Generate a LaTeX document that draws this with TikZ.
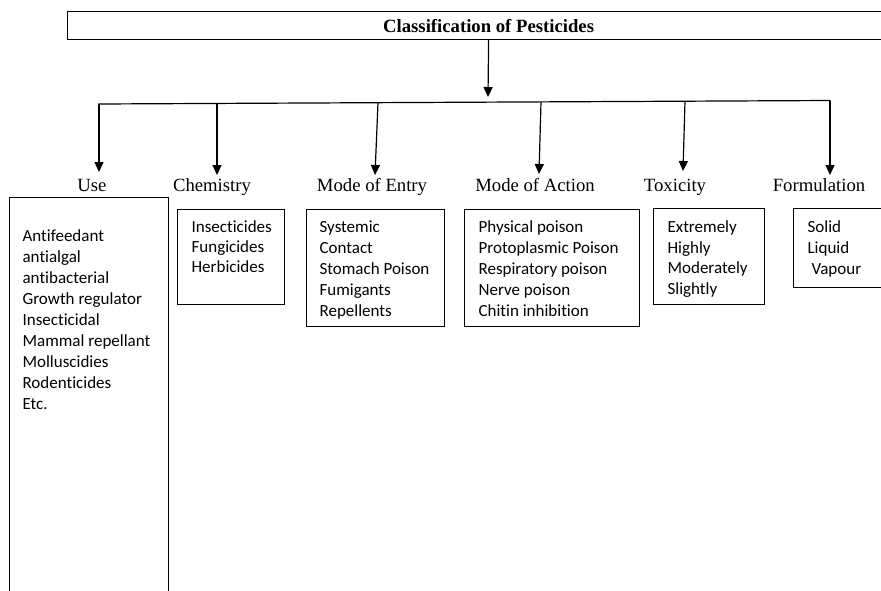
\documentclass[tikz,border=0pt]{standalone}
\usepackage{fontspec}
\setmainfont{Liberation Serif}
\newfontfamily\calibrifont[Ligatures=NoCommon]{Carlito}
\usetikzlibrary{arrows.meta}
\begin{document}
\begin{tikzpicture}[x=1pt,y=-1pt,line width=1.2pt,
  arr/.style={-{Triangle[length=10pt,width=9pt]}},
  heading/.style={font=\fontsize{18.7}{22}\selectfont,inner sep=0,anchor=base},
  item/.style={font=\calibrifont\fontsize{17}{21}\selectfont,inner sep=0,anchor=base west},
  listbox/.style={draw,anchor=north west,inner sep=0}]
\clip (0,0) rectangle (881,590);

% title bar (runs past the right edge)
\node[draw,anchor=north west,minimum width=842pt,minimum height=28pt,inner sep=0,
      font=\bfseries\fontsize{18.7}{22}\selectfont] (title) at (67,11) {Classification of Pesticides};

% distribution bus
\coordinate (join) at (488,97);
\draw[arr] (title.south) -- (join);
\coordinate (busL) at (99,104);
\coordinate (busR) at (830,100.5);
\draw[line cap=rect] (busL) -- (busR);

\coordinate (bChem) at (217,103.4);
\coordinate (bEntry) at (378,102.7);
\coordinate (bAction) at (541,101.9);
\coordinate (bTox) at (685,101.2);

\coordinate (tUse) at (99,172);
\coordinate (tChem) at (217,175);
\coordinate (tEntry) at (375,175);
\coordinate (tAction) at (539,174);
\coordinate (tTox) at (683,171);
\coordinate (tForm) at (830,175);

\draw[arr] (busL) -- (tUse);
\draw[arr] (bChem) -- (tChem);
\draw[arr] (bEntry) -- (tEntry);
\draw[arr] (bAction) -- (tAction);
\draw[arr] (bTox) -- (tTox);
\draw[arr] (busR) -- (tForm);

% category headings
\node[heading] (lUse) at (92,191) {Use};
\node[heading] (lChem) at (212,191) {Chemistry};
\node[heading] (lEntry) at (372,191) {Mode of Entry};
\node[heading] (lAction) at (535,191) {Mode of Action};
\node[heading] (lTox) at (675,191) {Toxicity};
\node[heading] (lForm) at (819,191) {Formulation};

% list boxes
\node[listbox,minimum width=159pt,minimum height=420pt] (bxUse) at (9,197) {};
\node[listbox,minimum width=107pt,minimum height=95pt] (bxChem) at (177,209) {};
\node[listbox,minimum width=138pt,minimum height=117pt] (bxEntry) at (306,209) {};
\node[listbox,minimum width=175pt,minimum height=117pt] (bxAction) at (464,209) {};
\node[listbox,minimum width=111pt,minimum height=96pt] (bxTox) at (653,208) {};
\node[listbox,minimum width=120pt,minimum height=79pt] (bxForm) at (793,208) {};

% list entries
\foreach \t [count=\i] in {Antifeedant,antialgal,antibacterial,Growth regulator,Insecticidal,Mammal repellant,Molluscidies,Rodenticides,Etc.}
  \node[item] (use\i) at (22,{241.5+21*(\i-1)}) {\t};
\foreach \t [count=\i] in {Insecticides,Fungicides,Herbicides}
  \node[item] (chem\i) at (191,{232+20*(\i-1)}) {\t};
\foreach \t [count=\i] in {Systemic,Contact,Stomach Poison,Fumigants,Repellents}
  \node[item] (entry\i) at (319,{232.5+21*(\i-1)}) {\t};
\foreach \t [count=\i] in {Physical poison,Protoplasmic Poison,Respiratory poison,Nerve poison,Chitin inhibition}
  \node[item] (action\i) at (478,{232.5+21*(\i-1)}) {\t};
\foreach \t [count=\i] in {Extremely,Highly,Moderately,Slightly}
  \node[item] (tox\i) at (667,{232.5+20.7*(\i-1)}) {\t};
\node[item] (form1) at (807,232.5) {Solid};
\node[item] (form2) at (807,253.5) {Liquid};
\node[item] (form3) at (811,274) {Vapour};
\end{tikzpicture}
\end{document}
